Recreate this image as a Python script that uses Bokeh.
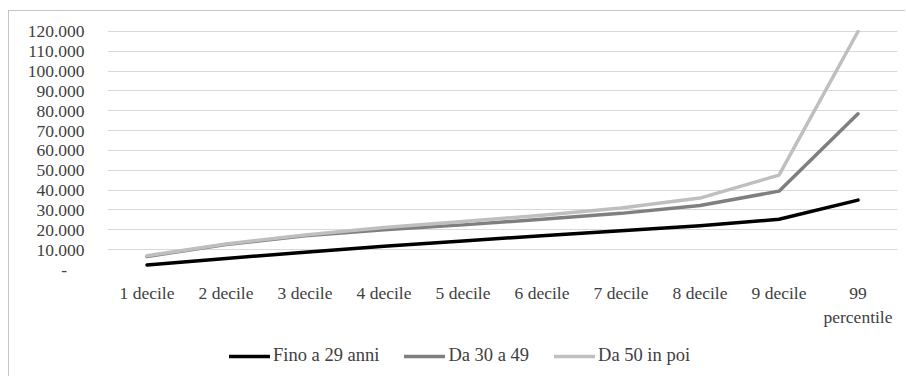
from bokeh.plotting import figure
from bokeh.layouts import column
from bokeh.models import FactorRange, Range1d, FixedTicker, Legend, LegendItem, ColumnDataSource
from bokeh.embed import file_html
from bokeh.resources import INLINE

categories = ["1 decile", "2 decile", "3 decile", "4 decile", "5 decile",
              "6 decile", "7 decile", "8 decile", "9 decile", "99\npercentile"]
fino_29 = [2300, 5600, 8700, 11700, 14400, 17000, 19500, 22000, 25300, 35000]
da_30_49 = [6600, 12600, 17000, 20000, 22500, 25300, 28300, 32300, 39500, 78500]
da_50 = [6900, 12900, 17400, 21200, 24200, 27300, 31000, 36000, 47600, 120000]
series_names = ["Fino a 29 anni", "Da 30 a 49", "Da 50 in poi"]
ytick_values = [0, 10000, 20000, 30000, 40000, 50000, 60000, 70000, 80000, 90000, 100000, 110000, 120000]
ytick_labels = ["-\u2007\u2007", "10.000", "20.000", "30.000", "40.000", "50.000", "60.000",
                "70.000", "80.000", "90.000", "100.000", "110.000", "120.000"]

FONT = "Liberation Serif"
TXT = "#404040"
colors = ["#000000", "#7f7f7f", "#bfbfbf"]

src = ColumnDataSource(dict(cat=categories, a=fino_29, b=da_30_49, c=da_50))

p = figure(x_range=FactorRange(*categories, range_padding=0), y_range=Range1d(0, 121000),
           width=896, height=318,
           min_border_left=98, min_border_right=8, min_border_top=18, min_border_bottom=60,
           output_backend="svg", toolbar_location=None)

p.outline_line_color = None
p.xgrid.grid_line_color = None
p.ygrid.grid_line_color = "#d9d9d9"
p.ygrid.grid_line_width = 1

p.yaxis.ticker = FixedTicker(ticks=ytick_values)
p.yaxis.major_label_overrides = {v: l for v, l in zip(ytick_values, ytick_labels)}
for ax in (p.xaxis[0], p.yaxis[0]):
    ax.axis_line_color = None
    ax.major_tick_line_color = None
    ax.minor_tick_line_color = None
    ax.major_tick_out = 0
    ax.major_tick_in = 0
    ax.major_label_text_font = FONT
    ax.major_label_text_font_size = "17.5px"
    ax.major_label_text_color = TXT
p.yaxis.major_label_standoff = 23
p.xaxis.major_label_standoff = 13

for col, c in zip(["a", "b", "c"], colors):
    p.line("cat", col, source=src, line_color=c, line_width=3.5,
           line_join="round", line_cap="round")

# legend strip below the chart (series drawn out of view, only their legend shows)
lf = figure(width=896, height=47, x_range=p.x_range, y_range=Range1d(-2, -1),
            x_axis_type=None, y_axis_type=None,
            min_border_left=98, min_border_right=8, min_border_top=0, min_border_bottom=0,
            output_backend="svg", toolbar_location=None)
lf.outline_line_color = None
leg_renderers = [lf.line("cat", col, source=src, line_color=c, line_width=3.5, line_cap="round")
                 for col, c in zip(["a", "b", "c"], colors)]
legend = Legend(items=[LegendItem(label=n, renderers=[r]) for n, r in zip(series_names, leg_renderers)],
                orientation="horizontal", location=(122, 10),
                glyph_width=41, glyph_height=20, label_height=20, label_standoff=3, spacing=25,
                padding=0, margin=0, border_line_color=None, background_fill_alpha=0,
                label_text_font=FONT, label_text_font_size="18.5px", label_text_color=TXT)
lf.add_layout(legend, "center")

layout = column(p, lf, spacing=0)
layout.margin = (10, 0, 0, 8)
layout.styles = {"border-left": "1px solid #c4c4c4", "border-top": "1px solid #c4c4c4"}

open("out.html", "w").write(file_html(layout, INLINE))
